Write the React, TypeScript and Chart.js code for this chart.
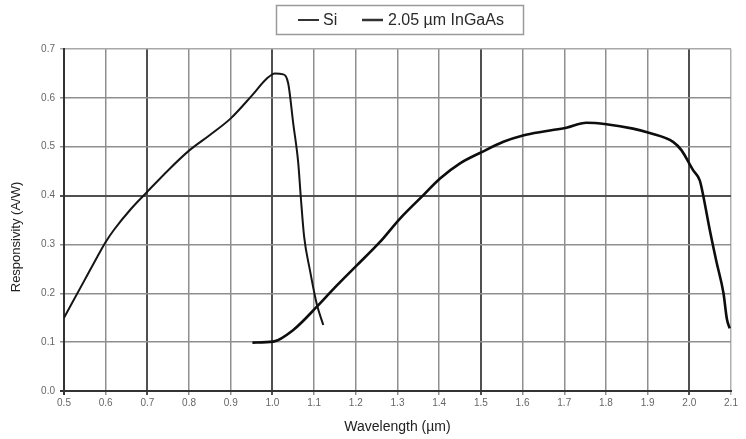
import React, { useEffect, useRef } from "react";
import { Chart, registerables } from "chart.js";

Chart.register(...registerables);

// Series: Si responsivity (A/W) vs wavelength (µm)
const siWavelength = [0.5, 0.55, 0.58, 0.6, 0.62, 0.66, 0.7, 0.75, 0.8, 0.85, 0.9, 0.95, 0.986, 1.006, 1.026, 1.038, 1.05, 1.062, 1.068, 1.076, 1.09, 1.106, 1.122];
const siResponse = [0.15, 0.228, 0.275, 0.305, 0.33, 0.372, 0.408, 0.452, 0.492, 0.524, 0.558, 0.604, 0.639, 0.65, 0.648, 0.629, 0.547, 0.466, 0.397, 0.316, 0.247, 0.179, 0.135];

// Series: 2.05 µm InGaAs responsivity (A/W) vs wavelength (µm)
const ingaasWavelength = [0.952, 1.002, 1.05, 1.106, 1.15, 1.2, 1.258, 1.306, 1.362, 1.402, 1.45, 1.502, 1.554, 1.601, 1.658, 1.705, 1.753, 1.801, 1.865, 1.905, 1.961, 1.981, 2.009, 2.025, 2.031, 2.049, 2.065, 2.082, 2.09, 2.097];
const ingaasResponse = [0.099, 0.101, 0.125, 0.172, 0.212, 0.255, 0.305, 0.353, 0.401, 0.435, 0.466, 0.489, 0.51, 0.523, 0.532, 0.539, 0.549, 0.546, 0.537, 0.528, 0.51, 0.493, 0.452, 0.431, 0.41, 0.33, 0.265, 0.2, 0.148, 0.128];

const seriesLabels = ["Si", "2.05 µm InGaAs"];
const xTitle = "Wavelength (µm)";
const yTitle = "Responsivity (A/W)";
const xMin = 0.5, xMax = 2.1, xStep = 0.1;
const yMin = 0, yMax = 0.7, yStep = 0.1;
const xEmphasis = [0.7, 1.0, 1.5, 2.0];
const yEmphasis = [0.4];

const FONT = "'Liberation Sans', Arial, sans-serif";

const decorPlugin = {
  id: "boxedLegend",
  afterDraw(chart: any) {
    const ctx = chart.ctx;
    ctx.save();
    // legend box
    ctx.strokeStyle = "#9a9a9a";
    ctx.lineWidth = 1.5;
    ctx.strokeRect(276.5, 5.5, 247, 29);
    ctx.font = `16px ${FONT}`;
    ctx.textBaseline = "middle";
    ctx.fillStyle = "#2a2a2a";
    const items = [
      { lx: 298, tx: 323, label: chart.data.datasets[0].label, lw: 2 },
      { lx: 362, tx: 388, label: chart.data.datasets[1].label, lw: 2.5 },
    ];
    for (const it of items) {
      ctx.strokeStyle = "#333";
      ctx.lineWidth = it.lw;
      ctx.beginPath();
      ctx.moveTo(it.lx, 20);
      ctx.lineTo(it.lx + 21, 20);
      ctx.stroke();
      ctx.fillText(it.label, it.tx, 20.5);
    }
    // y axis title
    ctx.translate(16, 237);
    ctx.rotate(-Math.PI / 2);
    ctx.font = `13px ${FONT}`;
    ctx.textAlign = "center";
    ctx.fillStyle = "#222";
    ctx.fillText(yTitle, 0, 0);
    ctx.restore();
  },
};

const near = (a: number, list: number[]) => list.some((v) => Math.abs(v - a) < 1e-6);

export default function App() {
  const ref = useRef<HTMLCanvasElement>(null);
  useEffect(() => {
    if (!ref.current) return;
    const chart = new Chart(ref.current, {
      type: "line",
      data: {
        datasets: [
          {
            label: seriesLabels[0],
            data: siWavelength.map((x, i) => ({ x, y: siResponse[i] })),
            borderColor: "#151515",
            borderWidth: 2,
            pointRadius: 0,
            cubicInterpolationMode: "monotone",
            fill: false,
          },
          {
            label: seriesLabels[1],
            data: ingaasWavelength.map((x, i) => ({ x, y: ingaasResponse[i] })),
            borderColor: "#0d0d0d",
            borderWidth: 2.6,
            pointRadius: 0,
            cubicInterpolationMode: "monotone",
            fill: false,
          },
        ],
      },
      options: {
        animation: false,
        responsive: false,
        maintainAspectRatio: false,
        layout: { padding: { left: 0, right: 15, top: 49, bottom: 0 } },
        plugins: { legend: { display: false }, tooltip: { enabled: false } },
        scales: {
          x: {
            type: "linear",
            min: xMin,
            max: xMax,
            afterFit: (s: any) => { s.height = 48; },
            ticks: {
              stepSize: xStep,
              color: "#666",
              font: { family: FONT, size: 10 },
              padding: 2,
              callback: (v: any) => Number(v).toFixed(1),
              maxRotation: 0,
              autoSkip: false,
            },
            grid: {
              color: (c: any) => {
                const v = c.tick ? c.tick.value : 0;
                if (Math.abs(v - xMax) < 1e-6) return "#b0b0b0";
                if (Math.abs(v - xMin) < 1e-6) return "#333";
                return near(v, xEmphasis) ? "#505050" : "#8f8f8f";
              },
              lineWidth: (c: any) => {
                const v = c.tick ? c.tick.value : 0;
                return near(v, xEmphasis) || Math.abs(v - xMin) < 1e-6 ? 2 : 1.5;
              },
              tickLength: 4,
            },
            border: { display: true, color: "#333", width: 2 },
            title: {
              display: true,
              text: xTitle,
              color: "#222",
              font: { family: FONT, size: 14 },
              padding: { top: 0, bottom: 3 },
            },
          },
          y: {
            type: "linear",
            min: yMin,
            max: yMax,
            afterFit: (s: any) => { s.width = 64; },
            ticks: {
              stepSize: yStep,
              color: "#666",
              font: { family: FONT, size: 10 },
              padding: 5,
              callback: (v: any) => Number(v).toFixed(1),
            },
            grid: {
              color: (c: any) => {
                const v = c.tick ? c.tick.value : 0;
                if (Math.abs(v - yMax) < 1e-6) return "#a8a8a8";
                if (Math.abs(v - yMin) < 1e-6) return "#333";
                return near(v, yEmphasis) ? "#505050" : "#8f8f8f";
              },
              lineWidth: (c: any) => {
                const v = c.tick ? c.tick.value : 0;
                return near(v, yEmphasis) || Math.abs(v - yMin) < 1e-6 ? 2 : 1.5;
              },
              tickLength: 4,
            },
            border: { display: true, color: "#333", width: 2 },
            title: { display: false, text: yTitle },
          },
        },
      },
      plugins: [decorPlugin],
    } as any);
    return () => chart.destroy();
  }, []);
  return (
    <div style={{ position: "fixed", left: 0, top: 0, width: 746, height: 439, background: "#fff" }}>
      <canvas ref={ref} width={746} height={439} style={{ display: "block" }} />
    </div>
  );
}
